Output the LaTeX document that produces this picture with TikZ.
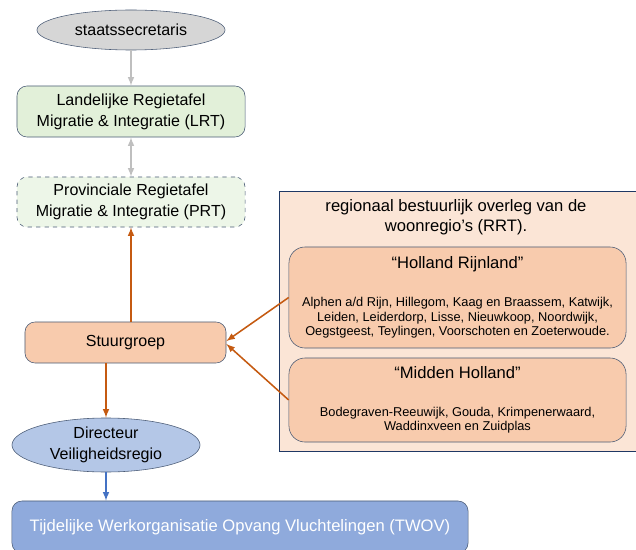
\documentclass[tikz,border=0pt]{standalone}
\usepackage{fontspec}
\setmainfont{Liberation Sans}
\usetikzlibrary{shapes.geometric}
\definecolor{lijn}{HTML}{4A5B75}
\definecolor{grijs}{HTML}{D6D6D6}
\definecolor{pijlgrijs}{HTML}{BFBFBF}
\definecolor{groen}{HTML}{E2F0D9}
\definecolor{lichtgroen}{HTML}{EDF6E8}
\definecolor{oranje}{HTML}{F8CBAD}
\definecolor{lichtoranje}{HTML}{FBE5D6}
\definecolor{pijloranje}{HTML}{C55A11}
\definecolor{blauw}{HTML}{B4C7E7}
\definecolor{donkerblauw}{HTML}{8FAADC}
\definecolor{pijlblauw}{HTML}{4472C4}
\definecolor{navy}{HTML}{1F3864}
\newcommand{\klein}{\fontsize{9.1}{10.3}\selectfont}
\newcommand{\groot}{\fontsize{11.8}{14}\selectfont}
\begin{document}
\begin{tikzpicture}
    [
    x=0.025cm,y=-0.025cm,
    every node/.style={font=\fontsize{11.4}{14.8}\selectfont},
    oval/.style={ellipse,draw=lijn,thin,inner sep=0pt,minimum width=4.7cm},
    box/.style={rectangle,rounded corners=2.5mm,draw=lijn,thin,align=center,inner sep=0pt},
    regio/.style={box,rounded corners=4mm,fill=oranje,minimum width=8.425cm,font=\klein},
    grijspijl/.style={draw=pijlgrijs,line width=1.1pt},
    oranjepijl/.style={draw=pijloranje,line width=1.1pt,-latex}
    ]
    \useasboundingbox (0,0) rectangle (636,550);
    \node (staats) at (131,30) [oval,fill=grijs,minimum height=1cm] {staatssecretaris};
    \node (lrt) at (131,111.5) [box,fill=groen,minimum width=5.7cm,minimum height=1.275cm] {Landelijke Regietafel\\Migratie \& Integratie (LRT)};
    \node (prt) at (131,202) [box,fill=lichtgroen,dashed,minimum width=5.7cm,minimum height=1.25cm] {Provinciale Regietafel\\Migratie \& Integratie (PRT)};
    \node (stuur) at (125.5,342.5) [box,fill=oranje,minimum width=5.025cm,minimum height=1.025cm] {Stuurgroep};
    \node (dir) at (106,445) [oval,fill=blauw,minimum height=1.35cm,align=center] {Directeur\\Veiligheidsregio};
    \node (twov) at (240,527) [box,fill=donkerblauw,text=white,minimum width=11.4cm,minimum height=1.3cm,font=\groot] {Tijdelijke Werkorganisatie Opvang Vluchtelingen (TWOV)};
    % regionaal overleg
    \node (rrt) at (458,321) [rectangle,draw=navy,thin,fill=lichtoranje,minimum width=8.95cm,minimum height=6.5cm] {};
    \node (rrttitel) at (456,217) [align=center,font=\groot] {regionaal bestuurlijk overleg van de\\woonregio’s (RRT).};
    \node (hr) at (457.5,297.5) [regio,minimum height=2.525cm] {{\groot “Holland Rijnland”}\\[16.5pt]Alphen a/d Rijn, Hillegom, Kaag en Braassem, Katwijk,\\Leiden, Leiderdorp, Lisse, Nieuwkoop, Noordwijk,\\Oegstgeest, Teylingen, Voorschoten en Zoeterwoude.};
    \node (mh) at (457.5,400) [regio,minimum height=2.1cm] {{\groot “Midden Holland”}\\[16.5pt]Bodegraven-Reeuwijk, Gouda, Krimpenerwaard,\\Waddinxveen en Zuidplas};
    \draw [grijspijl,-latex] (staats) to (lrt);
    \draw [grijspijl,latex-latex] (lrt) to (prt);
    \draw [oranjepijl] (prt.south |- stuur.north) to (prt.south);
    \draw [oranjepijl] (dir.north |- stuur.south) to (dir.north);
    \draw [draw=pijlblauw,line width=1.1pt,-latex] (dir.south) to (dir.south |- twov.north);
    \draw [oranjepijl] (hr.west) to ([yshift=1pt]stuur.east);
    \draw [oranjepijl] (mh.west) to ([yshift=-1pt]stuur.east);
  \end{tikzpicture}
\end{document}
